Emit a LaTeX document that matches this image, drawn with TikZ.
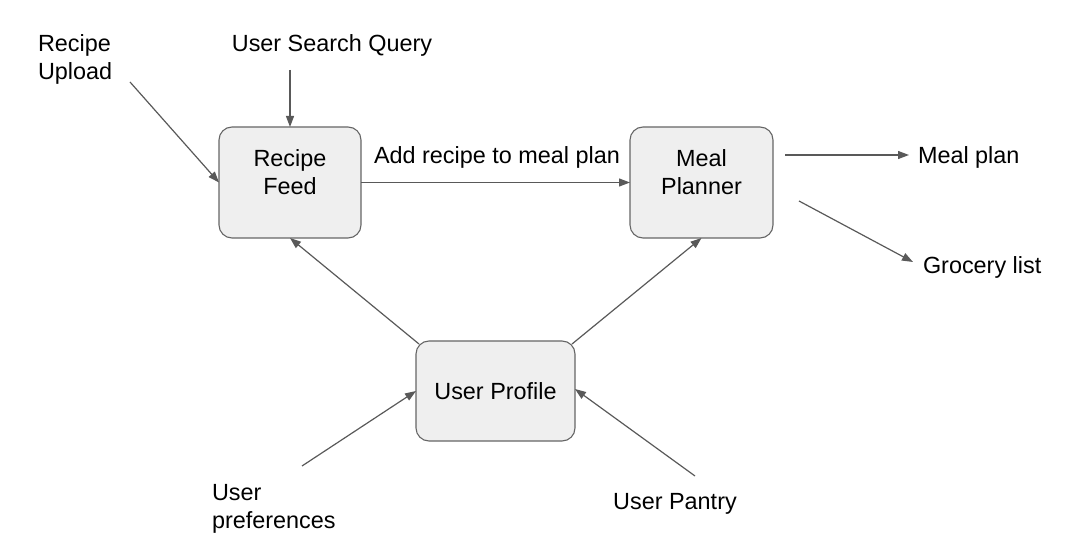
\documentclass[tikz,border=0pt]{standalone}
\usepackage{fontspec}
\setmainfont{Liberation Sans}
\usetikzlibrary{arrows.meta}
\definecolor{boxfill}{HTML}{EFEFEF}
\definecolor{boxline}{HTML}{666666}
\definecolor{arrowc}{HTML}{595959}
\tikzset{
  box/.style={draw=boxline, fill=boxfill, line width=1.1pt, rounded corners=13pt, outer sep=0pt, inner sep=0pt},
  txt/.style={inner sep=0pt, outer sep=0pt, align=center, font=\fontsize{23.4}{28}\selectfont},
  conn/.style={draw=arrowc, line width=1.2pt, -{Triangle[length=11pt,width=8pt]}}
}
\begin{document}
\begin{tikzpicture}[x=1pt,y=-1pt]
\useasboundingbox (0,0) rectangle (1089,534);
% boxes
\node[box, minimum width=142pt, minimum height=111pt] (rf) at (290,182.5) {};
\node[txt] (rft) at (290,172) {Recipe\\Feed};
\node[box, minimum width=143pt, minimum height=111pt] (mp) at (701.5,182.5) {};
\node[txt] (mpt) at (701.5,172) {Meal\\Planner};
\node[box, minimum width=159pt, minimum height=100pt, font=\fontsize{23.4}{28}\selectfont] (up) at (495.5,391) {\raisebox{-2pt}{User Profile}};
% labels
\node[txt, align=left, anchor=west] (upload) at (38,59) {Recipe\\Upload};
\node[txt] (search) at (332,45) {User Search Query};
\node[txt] (addlbl) at (497,157) {Add recipe to meal plan};
\node[txt, anchor=west] (mealplan) at (918,157) {Meal plan};
\node[txt, anchor=west] (grocery) at (923,267) {Grocery list};
\node[txt, align=left, anchor=west] (prefs) at (212,509) {User\\preferences};
\node[txt] (pantry) at (675,504) {User Pantry};
% free ends
\coordinate (uploadS) at (130,82);
\coordinate (searchS) at (290,70);
\coordinate (mpoutA) at (785,155);
\coordinate (mpoutAE) at (909,155);
\coordinate (mpoutB) at (799,201);
\coordinate (mpoutBE) at (913,262);
\coordinate (prefsS) at (302,466);
\coordinate (pantryS) at (695,476);
% connectors
\draw[conn] (uploadS) -- (rf.west);
\draw[conn] (searchS) -- (rf.north);
\draw[conn] (rf.east) -- (mp.west);
\draw[conn] (mpoutA) -- (mpoutAE);
\draw[conn] (mpoutB) -- (mpoutBE);
\draw[conn] ([shift={(3,3)}]up.north west) -- (rf.south);
\draw[conn] ([shift={(-3,3)}]up.north east) -- (mp.south);
\draw[conn] (prefsS) -- (up.west);
\draw[conn] (pantryS) -- ([yshift=2]up.east);
\end{tikzpicture}
\end{document}
